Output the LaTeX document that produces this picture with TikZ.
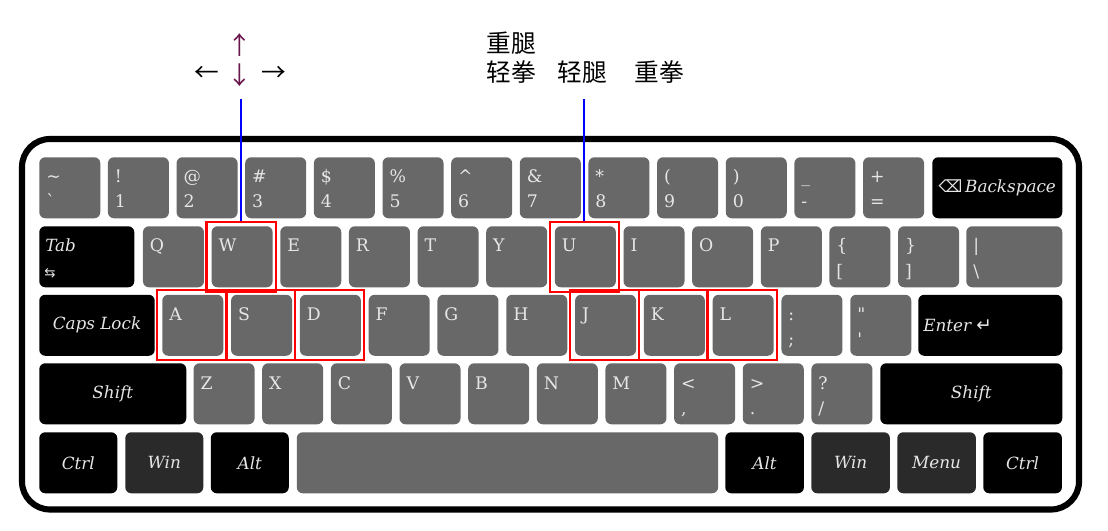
\documentclass[tikz,border=0pt]{standalone}
\usepackage{fontspec}
\setmainfont{DejaVu Serif}
\newfontfamily\cjk{Noto Sans CJK SC}
\newfontfamily\symf{DejaVu Sans}
\usetikzlibrary{calc}
\definecolor{keygray}{RGB}{104,104,104}
\definecolor{keydark}{RGB}{42,42,42}
\definecolor{lblc}{RGB}{230,230,230}
\definecolor{arrowpurple}{RGB}{105,20,75}
\tikzset{
  keybase/.style={rounded corners=4.5pt, inner sep=0pt, anchor=north west, minimum height=45.75pt},
  gk/.style={keybase, fill=keygray, minimum width=45.75pt},
  bk/.style={keybase, fill=black, text=lblc, font=\itshape\fontsize{12.6}{14}\selectfont},
  dk/.style={bk, fill=keydark},
  lbl/.style={text=lblc, inner sep=0pt, anchor=base west, font=\fontsize{13}{15}\selectfont},
  mlbl/.style={text=lblc, inner sep=0pt, font=\itshape\fontsize{12.6}{14}\selectfont},
  redbox/.style={draw=red, line width=1.7pt, minimum width=52pt, minimum height=52.5pt, inner sep=0pt},
  pointer/.style={draw=blue, line width=1.5pt},
  cjklbl/.style={font=\cjk\fontsize{18.5}{20}\selectfont, inner sep=0pt},
  arrowlbl/.style={font=\cjk\fontsize{18.5}{20}\selectfont, inner sep=0pt},
  kbframe/.style={draw=black, line width=4.6pt, rounded corners=21pt},
}
\newcommand\gkeyone[4]{%
  \node[gk] (#1) at (#2,#3) {};
  \node[lbl] (#1-l) at ($(#1.north west)+(7,26)$) {#4};}
\newcommand\gkeytwo[5]{%
  \node[gk] (#1) at (#2,#3) {};
  \node[lbl] (#1-t) at ($(#1.north west)+(7,26)$) {#4};
  \node[lbl] (#1-b) at ($(#1.north west)+(7,51)$) {#5};}
\begin{document}
\begin{tikzpicture}[x=0.75pt,y=-0.75pt]
\useasboundingbox (0,0) rectangle (1108,531);
\fill[white] (0,0) rectangle (1108,531);
% frame
\draw[kbframe] (22,139) rectangle (1079,509.5);
% row 1
\gkeytwo{kt}{39}{157}{\textasciitilde}{\textasciigrave}
\gkeytwo{k1}{107.65}{157}{!}{1}
\gkeytwo{k2}{176.3}{157}{@}{2}
\gkeytwo{k3}{244.95}{157}{\#}{3}
\gkeytwo{k4}{313.6}{157}{\$}{4}
\gkeytwo{k5}{382.25}{157}{\%}{5}
\gkeytwo{k6}{450.9}{157}{\textasciicircum}{6}
\gkeytwo{k7}{519.55}{157}{\&}{7}
\gkeytwo{k8}{588.2}{157}{*}{8}
\gkeytwo{k9}{656.85}{157}{(}{9}
\gkeytwo{k0}{725.5}{157}{)}{0}
\gkeytwo{kmin}{794.15}{157}{\_}{-}
\gkeytwo{keq}{862.8}{157}{+}{=}
\node[bk, minimum width=97.5pt] (bksp) at (932,157) {{\symf\upshape ⌫}\,Backspace};
% row 2
\node[bk, fill=black, minimum width=71.25pt] (tab) at (39,226) {};
\node[mlbl, anchor=base west] (tab-l) at ($(tab.north west)+(6,26)$) {Tab};
\node[text=lblc, inner sep=0pt, anchor=base west, font=\symf\fontsize{10}{11}\selectfont] (tab-i) at ($(tab.north west)+(5,51)$) {⇆};
\gkeyone{kq}{142.7}{226}{Q}
\gkeyone{kw}{211.35}{226}{W}
\gkeyone{ke}{280}{226}{E}
\gkeyone{kr}{348.65}{226}{R}
\gkeyone{ktt}{417.3}{226}{T}
\gkeyone{ky}{485.95}{226}{Y}
\gkeyone{ku}{554.6}{226}{U}
\gkeyone{ki}{623.25}{226}{I}
\gkeyone{ko}{691.9}{226}{O}
\gkeyone{kp}{760.55}{226}{P}
\gkeytwo{klb}{829.2}{226}{\{}{[}
\gkeytwo{krb}{897.85}{226}{\}}{]}
\node[gk, minimum width=72pt] (kbs) at (966,226) {};
\node[lbl] (kbs-t) at ($(kbs.north west)+(7,26)$) {|};
\node[lbl] (kbs-b) at ($(kbs.north west)+(7,51)$) {\textbackslash};
% row 3
\node[bk, minimum width=86.6pt] (caps) at (39,294.5) {Caps Lock};
\gkeyone{ka}{162}{294.5}{A}
\gkeyone{ks}{230.8}{294.5}{S}
\gkeyone{kd}{299.6}{294.5}{D}
\gkeyone{kf}{368.4}{294.5}{F}
\gkeyone{kg}{437.2}{294.5}{G}
\gkeyone{kh}{506}{294.5}{H}
\gkeyone{kj}{574.8}{294.5}{J}
\gkeyone{kk}{643.6}{294.5}{K}
\gkeyone{kl}{712.4}{294.5}{L}
\gkeytwo{ksc}{781.2}{294.5}{:}{;}
\gkeytwo{kqu}{850}{294.5}{\textquotedbl}{\textquotesingle}
\node[bk, minimum width=108pt] (enter) at (918,294.5) {};
\node[mlbl, anchor=west] (enter-l) at ($(enter.west)+(5,0)$) {Enter {\symf\upshape\fontsize{14}{15}\selectfont ↵}};
% row 4
\node[bk, minimum width=110.25pt] (lshift) at (39,363) {Shift};
\gkeyone{kz}{193.3}{363}{Z}
\gkeyone{kx}{261.95}{363}{X}
\gkeyone{kc}{330.6}{363}{C}
\gkeyone{kv}{399.25}{363}{V}
\gkeyone{kb}{467.9}{363}{B}
\gkeyone{kn}{536.55}{363}{N}
\gkeyone{km}{605.2}{363}{M}
\gkeytwo{kcm}{673.85}{363}{<}{,}
\gkeytwo{kdt}{742.5}{363}{>}{.}
\gkeytwo{ksl}{811.15}{363}{?}{/}
\node[bk, minimum width=136.5pt] (rshift) at (880,363) {Shift};
% row 5
\node[bk, minimum width=58.5pt] (lctrl) at (39,432) {Ctrl};
\node[dk, minimum width=58.5pt] (lwin) at (125,432) {Win};
\node[bk, minimum width=58.5pt] (lalt) at (210.5,432) {Alt};
\node[gk, minimum width=316pt] (space) at (296.5,432) {};
\node[bk, minimum width=59pt] (ralt) at (725,432) {Alt};
\node[dk, minimum width=59pt] (rwin) at (811,432) {Win};
\node[dk, minimum width=59pt] (menu) at (897,432) {Menu};
\node[bk, minimum width=59pt] (rctrl) at (983,432) {Ctrl};
% red boxes
\foreach \k in {kw,ka,ks,kd,ku,kj,kk,kl}{
  \node[redbox] (\k-box) at ($(\k.center)+(-1,0)$) {};
}
% pointers
\coordinate (wtip) at (240,99);
\coordinate (utip) at (585,99);
\draw[pointer] (kw-box.north) -- (kw-box.north |- wtip);
\draw[pointer] (ku-box.north) -- (ku-box.north |- utip);
% direction arrows
\node[arrowlbl, text=arrowpurple] (aup) at (240,45) {↑};
\node[arrowlbl, text=arrowpurple] (adown) at (240,75) {↓};
\node[arrowlbl] (aleft) at (207,74) {←};
\node[arrowlbl] (aright) at (273.5,74) {→};
% attack labels
\node[cjklbl] (hk) at (511,43) {重腿};
\node[cjklbl] (lp) at (511,72) {轻拳};
\node[cjklbl] (lk) at (582.5,72) {轻腿};
\node[cjklbl] (hp) at (659.5,72) {重拳};
\end{tikzpicture}
\end{document}
